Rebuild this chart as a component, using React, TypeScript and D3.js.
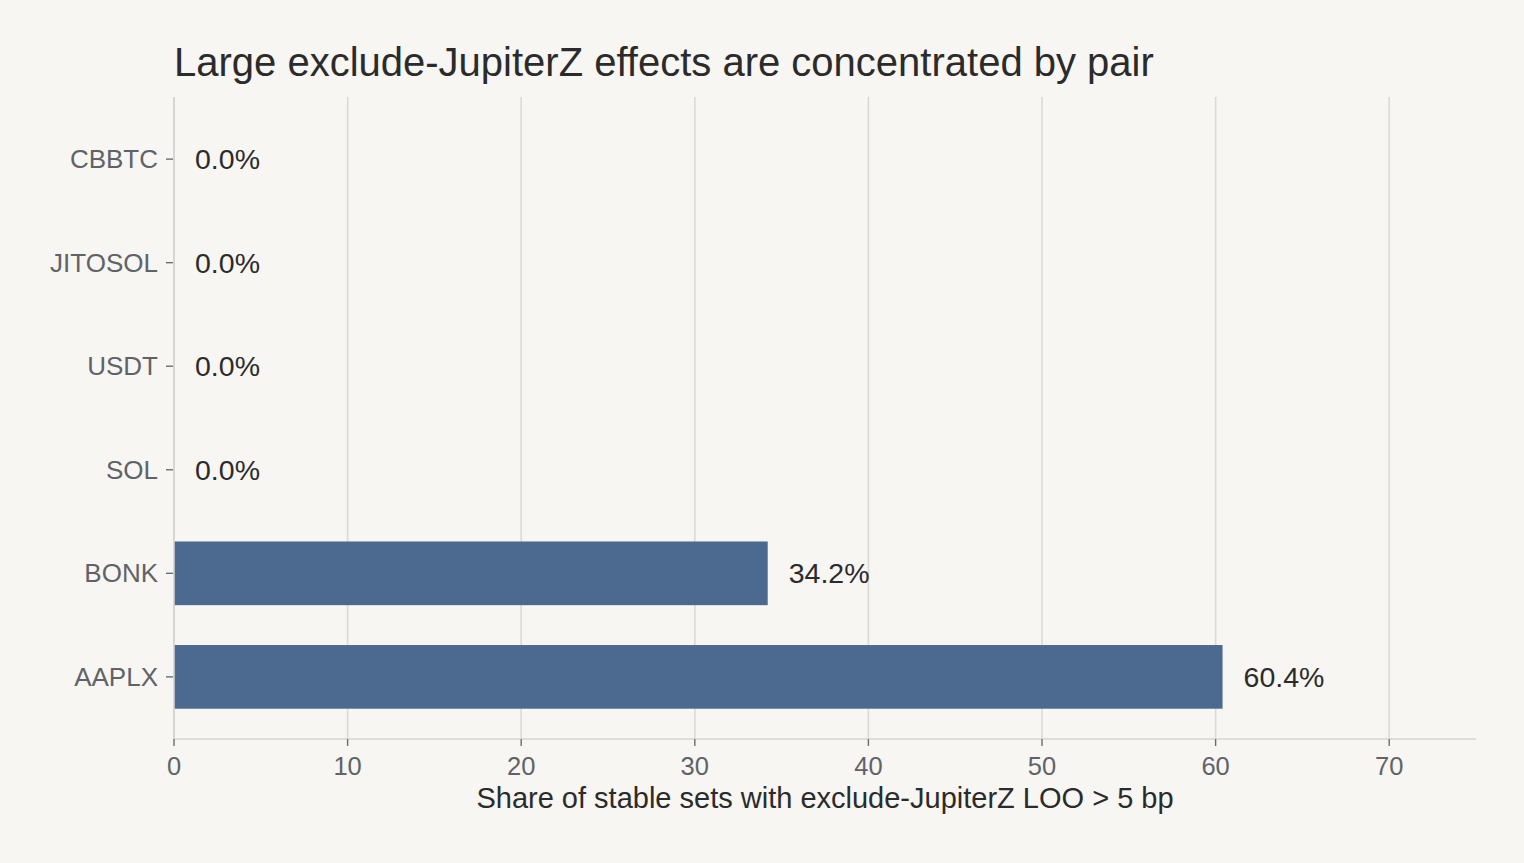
import React from 'react';
import * as d3 from 'd3';

const categories = ['AAPLX', 'BONK', 'SOL', 'USDT', 'JITOSOL', 'CBBTC'];
const shares = [60.4, 34.2, 0.0, 0.0, 0.0, 0.0];
const xTicks = [0, 10, 20, 30, 40, 50, 60, 70];

const W = 1524;
const H = 863;
const margin = { left: 174, right: 48, top: 97, bottom: 124 };

const App: React.FC = () => {
  const plotW = W - margin.left - margin.right;
  const plotH = H - margin.top - margin.bottom;

  const x = d3.scaleLinear().domain([0, 75]).range([margin.left, margin.left + plotW]);
  // barh-style: bars sit on integer positions, 0.6 units of padding at both ends
  const y = d3.scaleLinear().domain([-0.6, categories.length - 1 + 0.6]).range([margin.top + plotH, margin.top]);
  const barH = y(0) - y(0.615);

  const font = '"Liberation Sans", Arial, sans-serif';

  return (
    <svg width={W} height={H} style={{ display: 'block', position: 'absolute', left: 0, top: 0 }} fontFamily={font}>
      <rect x={0} y={0} width={W} height={H} fill="#f7f6f3" />

      {/* vertical grid */}
      {xTicks.map(t => (
        <line key={`g${t}`} x1={x(t)} x2={x(t)} y1={margin.top} y2={margin.top + plotH} stroke="#dcdad6" strokeWidth={1.6} />
      ))}

      {/* bars */}
      {categories.map((c, i) => (
        <rect key={c} x={x(0)} y={y(i) - barH / 2} width={x(shares[i]) - x(0)} height={barH} fill="#4c6a8f" />
      ))}

      {/* value labels */}
      {categories.map((c, i) => (
        <text key={`v${c}`} x={x(shares[i]) + 21} y={y(i)} dy="0.35em" fontSize={28.5} fill="#2b2b2b">
          {shares[i].toFixed(1)}%
        </text>
      ))}

      {/* axes lines */}
      <line x1={margin.left} x2={margin.left} y1={margin.top} y2={margin.top + plotH} stroke="#d6d4d0" strokeWidth={1.6} />
      <line x1={margin.left} x2={margin.left + plotW} y1={margin.top + plotH} y2={margin.top + plotH} stroke="#d6d4d0" strokeWidth={1.6} />

      {/* y ticks */}
      {categories.map((c, i) => (
        <g key={`y${c}`}>
          <line x1={margin.left - 8} x2={margin.left - 1} y1={y(i)} y2={y(i)} stroke="#6b6e73" strokeWidth={1.4} />
          <text x={margin.left - 16} y={y(i)} dy="0.35em" textAnchor="end" fontSize={26} fill="#5f6368">{c}</text>
        </g>
      ))}

      {/* x ticks */}
      {xTicks.map(t => (
        <g key={`x${t}`}>
          <line x1={x(t)} x2={x(t)} y1={margin.top + plotH} y2={margin.top + plotH + 7} stroke="#6b6e73" strokeWidth={1.4} />
          <text x={x(t)} y={margin.top + plotH + 27} dy="0.35em" textAnchor="middle" fontSize={25.5} fill="#5f6368">{t}</text>
        </g>
      ))}

      <text x={(margin.left + margin.left + plotW) / 2} y={808} textAnchor="middle" fontSize={29} fill="#2b2b2b">
        Share of stable sets with exclude-JupiterZ LOO &gt; 5 bp
      </text>

      <text x={margin.left} y={76} fontSize={40} fill="#2b2b2b">
        Large exclude-JupiterZ effects are concentrated by pair
      </text>
    </svg>
  );
};

export default App;
